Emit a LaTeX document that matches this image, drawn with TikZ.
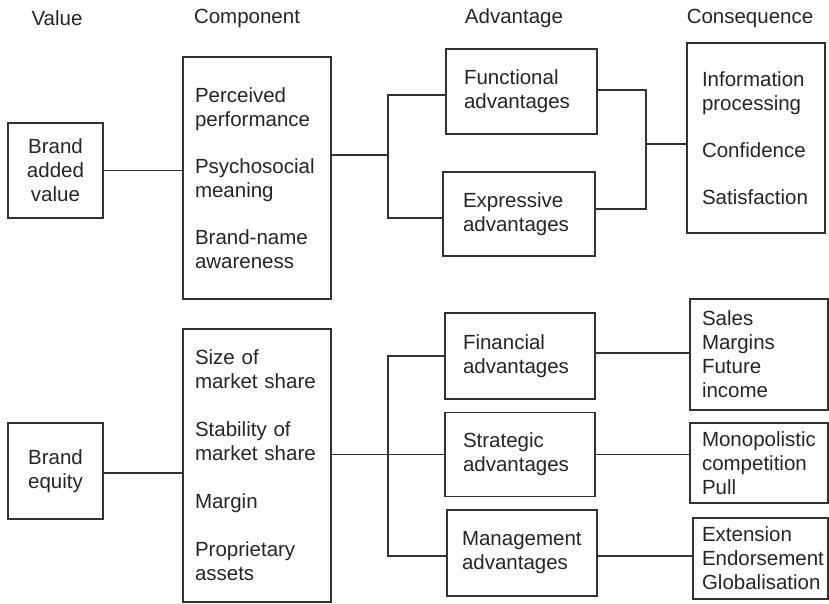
\documentclass[tikz,border=0pt]{standalone}
\usepackage{fontspec}
\setmainfont{Liberation Sans}
\begin{document}
\begin{tikzpicture}[x=1pt,y=-1pt,
  every node/.style={font=\fontsize{20.5}{24}\selectfont, text=black!85},
  box/.style={draw=black!80, line width=1.4pt, inner ysep=0pt, align=left},
  valbox/.style={box, align=center},
  link/.style={draw=black!80, line width=1.4pt},
  head/.style={anchor=center}]
\useasboundingbox[fill=white] (0,0) rectangle (829,604);

% column headings
\node[head] (hval)  at (57,18)  {Value};
\node[head] (hcomp) at (247,18) {Component};
\node[head] (hadv)  at (514,18) {Advantage};
\node[head] (hcons) at (750,18) {Consequence};

% ---------- brand added value ----------
\node[valbox, text width=79pt, inner xsep=8pt, minimum height=95pt] (bav) at (55.5,170.5)
  {Brand\\added\\value};
\node[box, text width=124pt, inner xsep=12pt, minimum height=242pt] (comp1) at (257,178)
  {Perceived\\performance\\[23pt]Psychosocial\\meaning\\[23pt]Brand-name\\awareness};
\node[box, text width=115pt, inner xsep=18pt, minimum height=85pt] (func) at (521.5,91.5)
  {Functional\\advantages};
\node[box, text width=112pt, inner xsep=20pt, minimum height=84pt] (expr) at (519,214)
  {Expressive\\advantages};
\node[box, text width=108pt, inner xsep=15pt, minimum height=190pt] (cons1) at (756,138)
  {Information\\processing\\[23pt]Confidence\\[23pt]Satisfaction};

\coordinate (j1) at (388,155);
\coordinate (j2) at (646,144);

\draw[link] (bav.east) -- (bav.east -| comp1.west);
\draw[link] (j1 -| comp1.east) -- (j1);
\draw[link] ([yshift=-3.5pt]func.west) -| (j1) |- ([yshift=-4pt]expr.west);
\draw[link] ([yshift=1.5pt]func.east) -| (j2) |- ([yshift=5pt]expr.east);
\draw[link] (j2) -- (j2 -| cons1.west);

% ---------- brand equity ----------
\node[valbox, text width=79pt, inner xsep=8pt, minimum height=96pt] (beq) at (55.5,471)
  {Brand\\equity};
\node[box, text width=124pt, inner xsep=12pt, minimum height=273pt] (comp2) at (257,465.5)
  {Size of\\market share\\[24pt]Stability of\\market share\\[24pt]Margin\\[24pt]Proprietary\\assets};
\node[box, text width=114pt, inner xsep=18pt, minimum height=86pt] (fin) at (520,356)
  {Financial\\advantages};
\node[box, text width=114pt, inner xsep=18pt, minimum height=84pt] (strat) at (520,454.5)
  {Strategic\\advantages};
\node[box, text width=120pt, inner xsep=15pt, minimum height=86pt] (mgmt) at (522,553)
  {Management\\advantages};
\node[box, text width=114pt, inner xsep=12pt, minimum height=111pt] (sales) at (759,354.5)
  {Sales\\Margins\\Future\\income};
\node[box, text width=114pt, inner xsep=12pt, minimum height=80pt] (mono) at (759,463)
  {Monopolistic\\competition\\Pull};
\node[box, text width=117pt, inner xsep=9pt, minimum height=81pt] (ext) at (760.5,558.5)
  {Extension\\Endorsement\\Globalisation};

\coordinate (j3) at (388,454.5);

\draw[link] ([yshift=-2pt]beq.east) -- ([yshift=-2pt]beq.east -| comp2.west);
\draw[link] (j3 -| comp2.east) -- (strat.west);
\draw[link] (fin.west) -| (j3) |- ([yshift=-3pt]mgmt.west);
\draw[link] ([yshift=3pt]fin.east) -- ([yshift=3pt]fin.east -| sales.west);
\draw[link] (strat.east) -- (strat.east -| mono.west);
\draw[link] ([yshift=-3pt]mgmt.east) -- ([yshift=-3pt]mgmt.east -| ext.west);
\end{tikzpicture}
\end{document}
